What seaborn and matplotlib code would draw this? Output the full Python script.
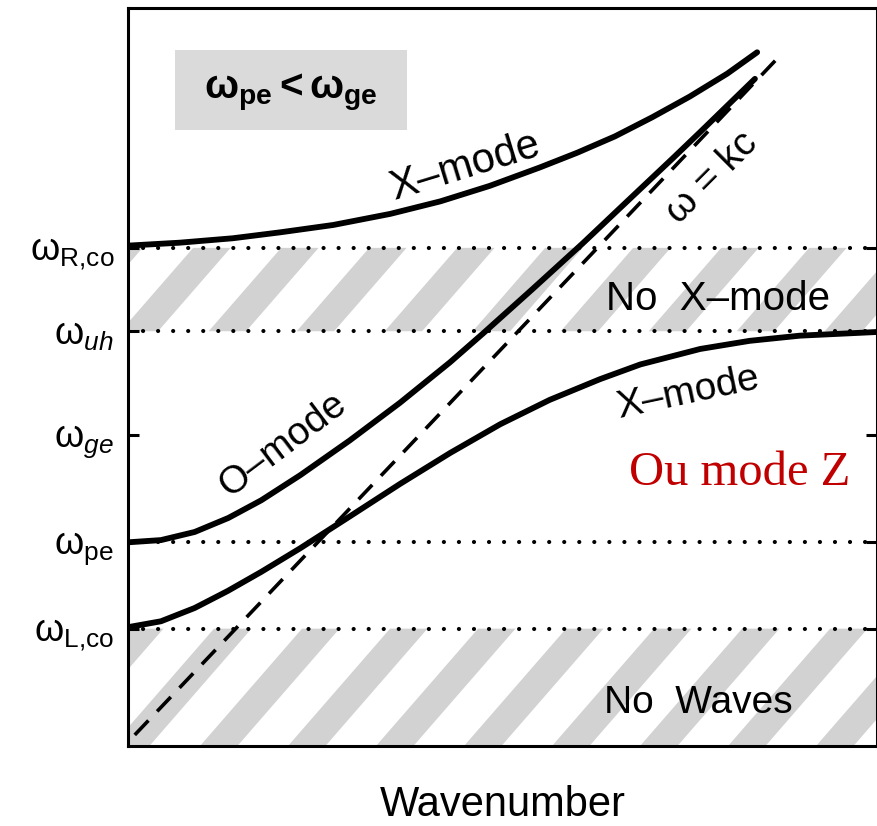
import numpy as np
import pandas as pd
import matplotlib
matplotlib.use("Agg")
import matplotlib.pyplot as plt
import seaborn as sns
from matplotlib.patches import Polygon, Rectangle

# ---------------- data (axis units: wavenumber 0-10, frequency 0-10) ----------------
level_labels = [r"$\mathregular{ω_{L{,}co}}$", r"$\mathregular{ω_{pe}}$",
                r"$\mathregular{ω}_{\mathit{ge}}$", r"$\mathregular{ω}_{\mathit{uh}}$",
                r"$\mathregular{ω_{R{,}co}}$"]
level_values = [1.59, 2.76, 4.21, 5.62, 6.75]
dotted_levels = [1.59, 2.76, 5.62, 6.75]           # L,co  pe  uh  R,co

rx_k = [0.00, 0.69, 1.40, 2.03, 2.74, 3.50, 4.17, 4.83, 5.50, 6.00, 6.50, 7.00, 7.50, 8.00, 8.40]
rx_w = [6.78, 6.82, 6.88, 6.96, 7.06, 7.21, 7.38, 7.59, 7.84, 8.04, 8.26, 8.52, 8.80, 9.11, 9.40]

o_k = [0.00, 0.44, 0.89, 1.34, 1.78, 2.30, 2.96, 3.63, 4.30, 4.74, 5.41, 6.07, 6.57, 7.28, 7.64, 8.37]
o_w = [2.76, 2.79, 2.90, 3.09, 3.33, 3.67, 4.14, 4.65, 5.20, 5.59, 6.20, 6.81, 7.29, 7.97, 8.32, 9.04]

lx_k = [0.00, 0.44, 0.89, 1.33, 1.78, 2.30, 2.96, 3.63, 4.30, 4.97, 5.63, 6.30, 6.84, 7.64, 8.30, 8.97, 10.0]
lx_w = [1.61, 1.69, 1.87, 2.10, 2.36, 2.68, 3.11, 3.55, 3.97, 4.36, 4.69, 4.97, 5.17, 5.38, 5.49, 5.56, 5.61]

kc_k = [0.09, 8.71]
kc_w = [0.15, 9.36]

forbidden_bands = [(0.0, 1.59), (5.62, 6.75)]     # No Waves, No X-mode

# ---------------- style ----------------
sns.set_theme(style="white")
plt.rcParams["font.family"] = ["Liberation Sans", "DejaVu Sans"]
plt.rcParams["text.color"] = "black"
plt.rcParams["axes.labelcolor"] = "black"
plt.rcParams["mathtext.fontset"] = "custom"
plt.rcParams["mathtext.rm"] = "Liberation Sans"
plt.rcParams["mathtext.it"] = "Liberation Sans:italic"
plt.rcParams["mathtext.bf"] = "Liberation Sans:bold"

STRIPE_X0, STRIPE_DX, STRIPE_W, STRIPE_SLOPE = 0.961, 1.175, 0.50, 1.167
STRIPE_COLOR = "#d2d2d2"

fig = plt.figure(figsize=(8.78, 8.26), dpi=100)
ax = fig.add_axes([128 / 878, 80 / 826, 749 / 878, 738 / 826])
ax.set_xlim(0, 10)
ax.set_ylim(0, 10)

# hatched forbidden regions
for (y0, y1) in forbidden_bands:
    for k in range(-12, 14):
        xl = STRIPE_X0 + k * STRIPE_DX
        poly = [(xl + y0 / STRIPE_SLOPE, y0), (xl + STRIPE_W + y0 / STRIPE_SLOPE, y0),
                (xl + STRIPE_W + y1 / STRIPE_SLOPE, y1), (xl + y1 / STRIPE_SLOPE, y1)]
        ax.add_patch(Polygon(poly, closed=True, facecolor=STRIPE_COLOR,
                             edgecolor="none", zorder=0))

# gray box top-left
ax.add_patch(Rectangle((0.063, 0.835), 0.309, 0.108, transform=ax.transAxes,
                       facecolor="#dadada", edgecolor="none", zorder=0))

# dotted cutoff / resonance levels
for v in dotted_levels:
    ax.axhline(v, color="black", lw=3.0, linestyle=(0, (0.01, 3.6)),
               dash_capstyle="round", zorder=1)

# light line
sns.lineplot(x=kc_k, y=kc_w, ax=ax, color="black", lw=2.6, estimator=None,
             sort=False, linestyle=(0, (5.5, 3.5)), zorder=2)

# dispersion curves
for xs, ys in [(rx_k, rx_w), (o_k, o_w), (lx_k, lx_w)]:
    sns.lineplot(x=xs, y=ys, ax=ax, color="black", lw=4.2, estimator=None,
                 sort=False, zorder=3)

# axes, ticks
for s in ax.spines.values():
    s.set_color("black")
    s.set_linewidth(2.2)
ax.set_xticks([])
ax.set_yticks(level_values, labels=level_labels, fontsize=27)
ax.tick_params(axis="y", direction="in", length=8, width=2.2, left=True,
               right=True, pad=10, colors="black")
ax.set_xlabel("Wavenumber", fontsize=30, labelpad=28, color="black")
ax.set_ylabel("")

# annotations
ax.text(4.50, 7.85, "X–mode", fontsize=30, rotation=17, ha="center", va="center")
ax.text(7.48, 4.78, "X–mode", fontsize=28, rotation=12, ha="center", va="center")
ax.text(2.07, 4.08, "O–mode", fontsize=28, rotation=37, ha="center", va="center")
ax.text(7.80, 7.70, "ω = kc", fontsize=28, rotation=45, ha="center", va="center")
ax.text(7.88, 5.91, "No  X–mode", fontsize=29, ha="center", va="baseline")
ax.text(7.61, 0.45, "No  Waves", fontsize=28, ha="center", va="baseline")
ax.text(8.17, 3.54, "Ou mode Z", fontsize=35, ha="center", va="baseline",
        color="#c00000", family=["Liberation Serif", "DejaVu Serif"])
ax.text(2.18, 8.86, r"$\mathregular{ω_{pe} < ω_{ge}}$", fontsize=29,
        fontweight="bold", ha="center", va="center")

fig.savefig("out.png", dpi=100)
